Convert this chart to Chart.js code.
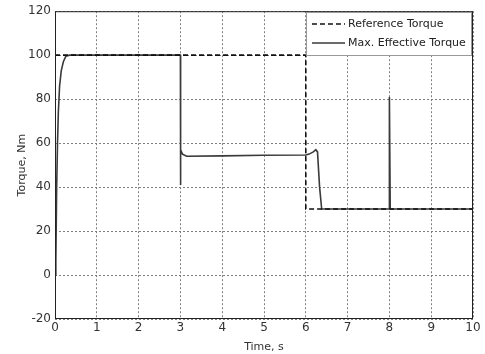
<!DOCTYPE html>
<html>
<head>
<meta charset="utf-8">
<script src="https://cdn.jsdelivr.net/npm/chart.js@4/dist/chart.umd.min.js"></script>
<style>
  html, body { margin: 0; padding: 0; background: #fff; }
  #wrap { width: 485px; height: 354px; }
</style>
</head>
<body>
<div id="wrap"><canvas id="torque"></canvas></div>
<script>
//reference torque (step command)
const refTime = [0, 6, 6, 10];
const refTorque = [100, 100, 30, 30];

//max. effective torque
const effTime = [0, 0.02, 0.02, 0.04, 0.06, 0.08, 0.11, 0.15, 0.2, 0.26, 0.35, 3.0, 3.0, 3.01, 3.05, 3.15, 4.0, 5.0, 6.0, 6.08, 6.18, 6.24, 6.28, 6.33, 6.38, 8.0, 8.0, 8.02, 10];
const effTorque = [0, 0, 6, 40, 60, 74, 86, 93, 97, 99.5, 100, 100, 41, 57, 55, 54, 54.2, 54.5, 54.6, 55, 56, 57, 56, 40, 30, 30, 81, 30, 30];

const xTicks = [0, 1, 2, 3, 4, 5, 6, 7, 8, 9, 10];
const yTicks = [-20, 0, 20, 40, 60, 80, 100, 120];

const FONT = 'DejaVu Sans';

//frame + legend box drawn on top of the plot
const frameLegend = {
  id: 'frameLegend',
  afterDraw(chart) {
    const {ctx, chartArea: {top, right, bottom, left}} = chart;
    ctx.save();
    ctx.strokeStyle = '#222';
    ctx.lineWidth = 1;
    ctx.setLineDash([]);
    ctx.strokeRect(left + 0.5, top + 0.5, right - left - 1, bottom - top - 1);

    //legend
    const bx = 306, by = 12, bw = 165, bh = 43;
    ctx.fillStyle = '#fff';
    ctx.fillRect(bx, by, bw, bh);
    ctx.strokeStyle = '#999';
    ctx.strokeRect(bx + 0.5, by + 0.5, bw, bh);
    ctx.font = '11px ' + FONT;
    ctx.textBaseline = 'middle';
    chart.data.datasets.forEach((ds, i) => {
      const y = by + 12 + i * 19;
      ctx.strokeStyle = ds.borderColor;
      ctx.lineWidth = 1.5;
      ctx.setLineDash(ds.borderDash || []);
      ctx.beginPath();
      ctx.moveTo(bx + 6, y);
      ctx.lineTo(bx + 39, y);
      ctx.stroke();
      ctx.setLineDash([]);
      ctx.fillStyle = '#222';
      ctx.fillText(ds.label, bx + 42, y);
    });
    ctx.restore();
  }
};

const data = {
  datasets: [
    {label: 'Reference Torque', data: refTime.map((t, i) => ({x: t, y: refTorque[i]})),
     borderColor: '#111', borderWidth: 1.6, borderDash: [5, 3], pointRadius: 0, tension: 0},
    {label: 'Max. Effective Torque', data: effTime.map((t, i) => ({x: t, y: effTorque[i]})),
     borderColor: '#3a3a3a', borderWidth: 1.6, pointRadius: 0, tension: 0}
  ]
};

const config = {
  type: 'line',
  data: data,
  options: {
    responsive: true,
    maintainAspectRatio: false,
    animation: false,
    layout: {padding: {left: 0, right: 12, top: 11, bottom: 0}},
    plugins: {legend: {display: false}, tooltip: {enabled: false}},
    scales: {
      x: {
        type: 'linear', min: 0, max: 10,
        afterBuildTicks: s => { s.ticks = xTicks.map(v => ({value: v})); },
        afterFit: s => { s.height = 35; },
        grid: {color: '#808080', drawTicks: false, lineWidth: 1},
        border: {display: false, dash: [2, 2]},
        ticks: {color: '#333', font: {family: FONT, size: 12}, padding: 2, maxRotation: 0},
        title: {display: true, text: 'Time, s', color: '#333', font: {family: FONT, size: 11}, padding: {top: 0, bottom: 0}}
      },
      y: {
        min: -20, max: 120,
        afterBuildTicks: s => { s.ticks = yTicks.map(v => ({value: v})); },
        afterFit: s => { s.width = 55; },
        grid: {color: '#808080', drawTicks: false, lineWidth: 1},
        border: {display: false, dash: [2, 2]},
        ticks: {color: '#333', font: {family: FONT, size: 12}, padding: 4},
        title: {display: true, text: 'Torque, Nm', color: '#333', font: {family: FONT, size: 11}, padding: {top: 16, bottom: 4}}
      }
    }
  },
  plugins: [frameLegend]
};

const torqueChart = new Chart(document.getElementById('torque'), config);
</script>
</body>
</html>
